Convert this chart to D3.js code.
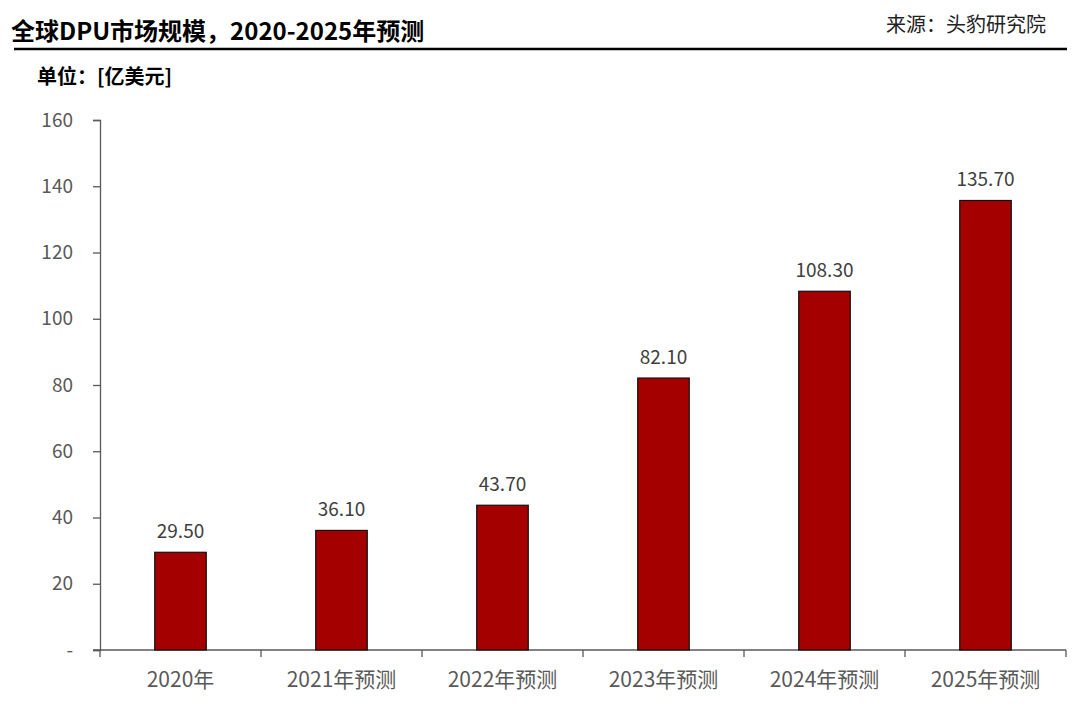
<!DOCTYPE html>
<html>
<head>
<meta charset="utf-8">
<script src="https://cdn.jsdelivr.net/npm/d3@7"></script>
<style>
  body { margin: 0; background: #fff; }
  text { font-family: "Noto Sans CJK SC", "Noto Sans", sans-serif; }
</style>
</head>
<body>
<div id="chart"></div>
<script>
const width = 1080;
const height = 708;

const categories = ["2020年", "2021年预测", "2022年预测", "2023年预测", "2024年预测", "2025年预测"];
const values = [29.5, 36.1, 43.7, 82.1, 108.3, 135.7];
const yTicks = [0, 20, 40, 60, 80, 100, 120, 140, 160];

const margin = { top: 120, right: 14, bottom: 58, left: 100 };

const svg = d3.select("#chart")
    .append("svg")
    .attr("width", width)
    .attr("height", height);

// header
svg.append("text")
    .attr("x", 11).attr("y", 40)
    .attr("font-size", 24).attr("font-weight", "bold")
    .attr("fill", "#000")
    .text("全球DPU市场规模，2020-2025年预测");

svg.append("text")
    .attr("x", 1046).attr("y", 32)
    .attr("text-anchor", "end")
    .attr("font-size", 20).attr("fill", "#222")
    .text("来源：头豹研究院");

svg.append("line")
    .attr("x1", 14).attr("x2", 1067)
    .attr("y1", 49).attr("y2", 49)
    .attr("stroke", "#000").attr("stroke-width", 2.5);

svg.append("text")
    .attr("x", 37).attr("y", 84)
    .attr("font-size", 20).attr("font-weight", "bold")
    .attr("fill", "#000")
    .text("单位：[亿美元]");

const x = d3.scaleBand()
    .domain(categories)
    .range([margin.left, width - margin.right])
    .paddingInner(0.68)
    .paddingOuter(0.34);

const y = d3.scaleLinear()
    .domain([0, 160])
    .range([height - margin.bottom, margin.top]);

// y axis
const yAxis = svg.append("g")
    .attr("transform", "translate(" + margin.left + ",0)")
    .call(d3.axisLeft(y).tickValues(yTicks).tickSize(7).tickPadding(20)
        .tickFormat(d => d === 0 ? "-" : d));
yAxis.select(".domain").attr("stroke", "#595959").attr("stroke-width", 1.3);
yAxis.selectAll(".tick line").attr("stroke", "#595959").attr("stroke-width", 1.3);
yAxis.selectAll(".tick text")
    .attr("font-size", 19).attr("fill", "#595959")
    .style("font-family", "'Noto Sans CJK SC', sans-serif");

// x axis
const xEdges = d3.range(categories.length + 1).map(i => margin.left + i * (width - margin.left - margin.right) / categories.length);

const xAxis = svg.append("g");
xAxis.append("line")
    .attr("x1", margin.left - 7).attr("x2", width - margin.right)
    .attr("y1", y(0)).attr("y2", y(0))
    .attr("stroke", "#595959").attr("stroke-width", 1.3);
xAxis.selectAll(".edge")
    .data(xEdges)
    .enter()
    .append("line")
    .attr("x1", d => d).attr("x2", d => d)
    .attr("y1", y(0)).attr("y2", y(0) + 7)
    .attr("stroke", "#595959").attr("stroke-width", 1.3);
xAxis.selectAll(".cat")
    .data(categories)
    .enter()
    .append("text")
    .attr("x", d => x(d) + x.bandwidth() / 2)
    .attr("y", y(0) + 37)
    .attr("text-anchor", "middle")
    .attr("font-size", 21).attr("fill", "#595959")
    .text(d => d);

// bars
svg.selectAll(".bar")
    .data(values)
    .enter()
    .append("rect")
    .attr("x", (d, i) => x(categories[i]))
    .attr("y", d => y(d))
    .attr("width", x.bandwidth())
    .attr("height", d => y(0) - y(d))
    .attr("fill", "#A50000")
    .attr("stroke", "#111")
    .attr("stroke-width", 1.2);

svg.selectAll(".val")
    .data(values)
    .enter()
    .append("text")
    .attr("x", (d, i) => x(categories[i]) + x.bandwidth() / 2)
    .attr("y", d => y(d) - 14)
    .attr("text-anchor", "middle")
    .attr("font-size", 19).attr("fill", "#404040")
    .text(d => d.toFixed(2));
</script>
</body>
</html>
